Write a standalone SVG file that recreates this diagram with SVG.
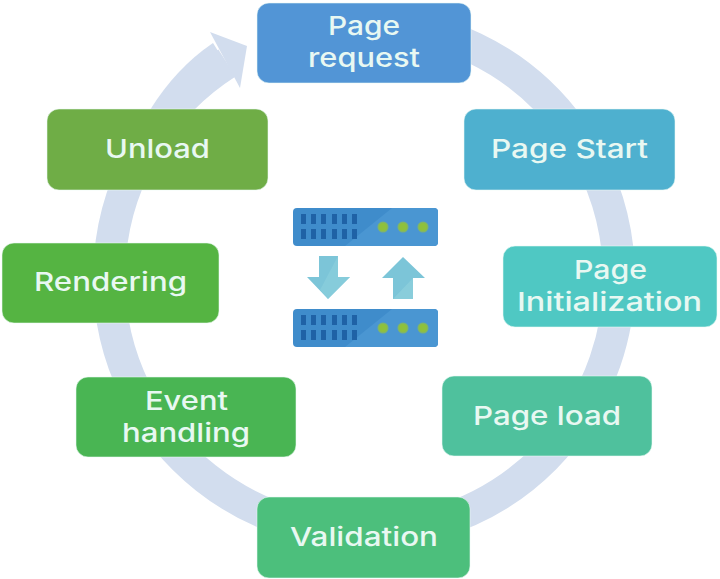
<svg xmlns="http://www.w3.org/2000/svg" width="720" height="579" viewBox="0 0 720 579">
<style>
.box{stroke:#eafaf4;stroke-opacity:.55;stroke-width:1}
.t{font-family:Inter,"Open Sans","DejaVu Sans",sans-serif;font-size:26px;font-weight:500;text-anchor:middle;fill:#e8f8f2}
.slot{fill:#1f62a6}
.dot{fill:#8fc13c}
.halo{fill:#7fb56a}
.body{fill:#3f8ccb}
.sheen{fill:#4a96d2}
.arr{fill:#7cc5d8}
.arr2{fill:#8ed0dd}
</style>
<defs>
<g id="server">
<rect class="body" x="293" y="208" width="145" height="38" rx="4"/>
<path class="sheen" d="M345 246L392 208H434a4 4 0 0 1 4 4V242a4 4 0 0 1-4 4Z"/>
<g class="slot">
<rect x="301" y="214" width="5" height="10"/><rect x="311" y="214" width="5" height="10"/><rect x="321" y="214" width="5" height="10"/><rect x="332" y="214" width="5" height="10"/><rect x="342" y="214" width="5" height="10"/><rect x="352" y="214" width="5" height="10"/>
<rect x="301" y="229" width="5" height="10"/><rect x="311" y="229" width="5" height="10"/><rect x="321" y="229" width="5" height="10"/><rect x="332" y="229" width="5" height="10"/><rect x="342" y="229" width="5" height="10"/><rect x="352" y="229" width="5" height="10"/>
</g>
<circle class="halo" cx="383" cy="227" r="5.5"/><circle class="dot" cx="383" cy="227" r="4"/>
<circle class="halo" cx="403" cy="227" r="5.5"/><circle class="dot" cx="403" cy="227" r="4"/>
<circle class="halo" cx="423" cy="227" r="5.5"/><circle class="dot" cx="423" cy="227" r="4"/>
</g>
</defs>
<rect width="720" height="579" fill="#fff"/>
<g id="connectors">
<path d="M364 23A255 255 0 1 1 227 63" fill="none" stroke="#d2ddee" stroke-width="32"/>
<path d="M150 110Q176 68 213 43L233 75L200 100Z" fill="#d2ddee"/>
<path d="M210 32L247 46L240 88Z" fill="#d2ddee"/>
</g>
<g id="icon">
<use href="#server"/>
<use href="#server" y="101"/>
<path class="arr" d="M319 256H338V277H350L328 299L307 277H319Z"/>
<path class="arr2" d="M338 256V277H350L328 299L320 290Z" opacity=".6"/>
<path class="arr" d="M403 257L425 278H413V299H393V278H382Z"/>
<path class="arr2" d="M413 278V299H393L413 278Z" opacity=".7"/>
</g>
<g id="page-request">
<rect class="box" x="257" y="3" width="214" height="80" rx="12" fill="#5295d6"/>
<text class="t" x="364" y="35" textLength="72" lengthAdjust="spacingAndGlyphs">Page</text>
<text class="t" x="364" y="67" textLength="112" lengthAdjust="spacingAndGlyphs">request</text>
</g>
<g id="page-start">
<rect class="box" x="464" y="109" width="211" height="81" rx="12" fill="#4eb0cf"/>
<text class="t" x="569.500" y="158" textLength="157" lengthAdjust="spacingAndGlyphs">Page Start</text>
</g>
<g id="page-initialization">
<rect class="box" x="503" y="246" width="214" height="81" rx="12" fill="#4fc8c3"/>
<text class="t" x="610.500" y="279" textLength="73" lengthAdjust="spacingAndGlyphs">Page</text>
<text class="t" x="609.500" y="311" textLength="185" lengthAdjust="spacingAndGlyphs">Initialization</text>
</g>
<g id="page-load">
<rect class="box" x="442" y="376" width="210" height="80" rx="12" fill="#4fc19d"/>
<text class="t" x="547" y="425" textLength="148" lengthAdjust="spacingAndGlyphs">Page load</text>
</g>
<g id="validation">
<rect class="box" x="257" y="497" width="213" height="81" rx="12" fill="#4cbf7c"/>
<text class="t" x="364" y="546" textLength="148" lengthAdjust="spacingAndGlyphs">Validation</text>
</g>
<g id="event-handling">
<rect class="box" x="76" y="377" width="220" height="80" rx="12" fill="#49b553"/>
<text class="t" x="186.500" y="410" textLength="83" lengthAdjust="spacingAndGlyphs">Event</text>
<text class="t" x="186" y="442" textLength="128" lengthAdjust="spacingAndGlyphs">handling</text>
</g>
<g id="rendering">
<rect class="box" x="2" y="243" width="217" height="80" rx="12" fill="#55b442"/>
<text class="t" x="110.500" y="291" textLength="153" lengthAdjust="spacingAndGlyphs">Rendering</text>
</g>
<g id="unload">
<rect class="box" x="47" y="109" width="221" height="81" rx="12" fill="#6fad46"/>
<text class="t" x="157.500" y="158" textLength="105" lengthAdjust="spacingAndGlyphs">Unload</text>
</g>
</svg>
